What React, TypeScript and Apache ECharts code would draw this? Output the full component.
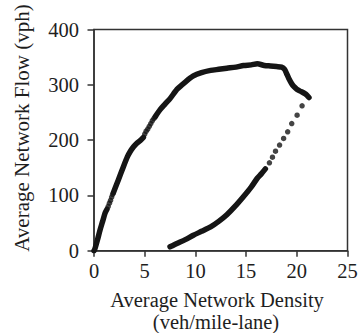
import React, { useEffect, useRef } from "react";
import * as echarts from "echarts";

// Upper (loading) branch, continuous dense segments [density, flow]
const upperSegA: number[][] = [
  [0, 0], [0.1, 4], [0.35, 20], [0.59, 37], [0.85, 53], [1.09, 68], [1.28, 75],
];
const upperSegB: number[][] = [
  [1.91, 105], [2.4, 128], [2.9, 152], [3.3, 170], [3.56, 179], [3.9, 188], [4.2, 194], [4.55, 199], [4.87, 205],
];
const upperSegC: number[][] = [
  [6.03, 242], [6.52, 255], [7.0, 265], [7.5, 275], [8.2, 292], [9.0, 305], [9.8, 316], [10.6, 322],
  [11.5, 326], [12.3, 328], [13.1, 330], [14.0, 332], [14.75, 335], [15.5, 336], [16.1, 338], [16.8, 335],
  [17.4, 334], [18.0, 333], [18.5, 332], [18.8, 328], [19.0, 320], [19.2, 312], [19.5, 302], [19.7, 297],
  [20.0, 292], [20.4, 288], [20.8, 284], [21.0, 281], [21.2, 277],
];
// Sparse dots of the upper branch
const upperDots: number[][] = [
  [1.4, 80], [1.52, 86], [1.63, 91], [1.74, 97], [1.84, 102],
  [5.0, 211], [5.14, 216], [5.3, 220], [5.45, 225], [5.6, 230], [5.75, 235], [5.9, 239],
];
// Lower (unloading) branch, dense part
const lowerDense: number[][] = [
  [7.5, 7], [8.17, 13], [9.0, 20], [9.8, 28], [10.6, 35], [11.5, 43], [12.3, 53], [13.1, 65],
  [13.9, 80], [14.75, 98], [15.5, 115], [16.1, 131], [16.5, 139], [16.9, 148],
];
// Lower branch sparse dots
const lowerDots: number[][] = [
  [17.3, 159], [17.6, 169], [17.9, 180], [18.3, 191], [18.7, 203], [19.1, 215], [19.5, 230], [20.03, 245], [20.52, 262],
];

const xTicks = { min: 0, max: 25, interval: 5 };
const yTicks = { min: 0, max: 400, interval: 100 };

const INK = "#151515";
const FONT = "Liberation Serif";

export default function App() {
  const ref = useRef<HTMLDivElement>(null);
  useEffect(() => {
    if (!ref.current) return;
    const chart = echarts.init(ref.current, undefined, { renderer: "svg" });
    const lineSeries = (data: number[][]) => ({
      type: "line",
      data,
      showSymbol: false,
      smooth: 0.25,
      lineStyle: { color: INK, width: 5.5, cap: "round", join: "round" },
      z: 3,
    });
    const dotSeries = (data: number[][]) => ({
      type: "scatter",
      data,
      symbolSize: 5.5,
      itemStyle: { color: INK },
      z: 3,
    });
    const titleStyle = {
      fontFamily: FONT,
      fontSize: 20.5,
      fill: "#1e1e1e",
      align: "center",
      verticalAlign: "middle",
    };
    chart.setOption({
      animation: false,
      grid: {
        left: 94,
        right: 13.5,
        top: 29.5,
        bottom: 82.3,
        show: true,
        borderColor: "#333",
        borderWidth: 1.5,
      },
      xAxis: {
        type: "value",
        ...xTicks,
        axisLine: { show: true, lineStyle: { color: "#333", width: 1.5 } },
        axisTick: { show: true, inside: false, length: 6, lineStyle: { color: "#333", width: 1.5 } },
        splitLine: { show: false },
        axisLabel: { fontFamily: FONT, fontSize: 20.5, color: "#1e1e1e", margin: 10 },
      },
      yAxis: {
        type: "value",
        ...yTicks,
        axisLine: { show: true, lineStyle: { color: "#333", width: 1.5 } },
        axisTick: { show: true, inside: false, length: 6.5, lineStyle: { color: "#333", width: 1.5 } },
        splitLine: { show: false },
        axisLabel: { fontFamily: FONT, fontSize: 20.5, color: "#1e1e1e", margin: 15 },
      },
      series: [
        lineSeries(upperSegA),
        lineSeries(upperSegB),
        lineSeries(upperSegC),
        lineSeries(lowerDense),
        dotSeries(upperDots),
        dotSeries(lowerDots),
      ],
      graphic: [
        {
          type: "text",
          x: 22,
          y: 128,
          rotation: Math.PI / 2,
          style: { ...titleStyle, fontSize: 21, text: "Average Network Flow (vph)" },
        },
        {
          type: "text",
          x: 217,
          y: 299.5,
          style: { ...titleStyle, text: "Average Network Density" },
        },
        {
          type: "text",
          x: 216,
          y: 321.5,
          style: { ...titleStyle, text: "(veh/mile-lane)" },
        },
      ],
    });
    return () => chart.dispose();
  }, []);
  return <div ref={ref} style={{ width: 361, height: 333, position: "absolute", left: 0, top: 0 }} />;
}
